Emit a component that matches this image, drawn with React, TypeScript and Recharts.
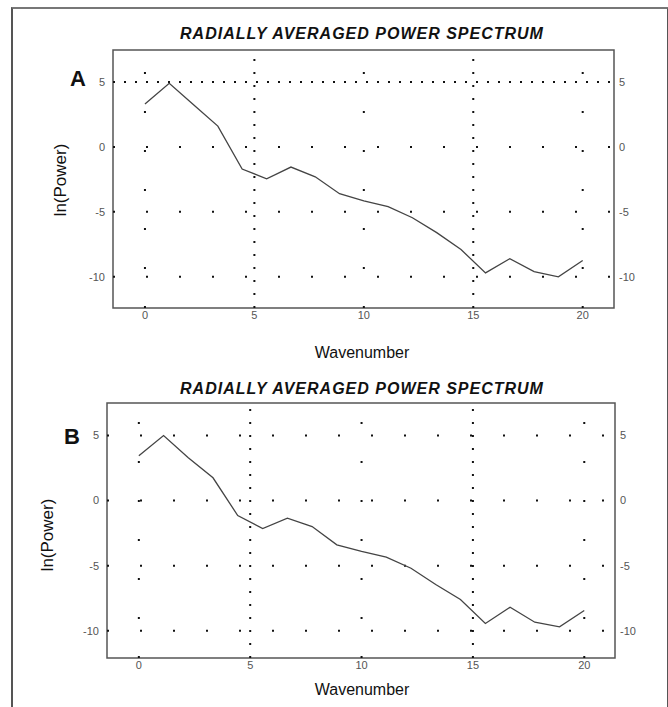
import { LineChart, Line, XAxis, YAxis, ReferenceLine, ReferenceArea } from "recharts";

const wavenumbers = [0, 1.11, 2.22, 3.33, 4.44, 5.56, 6.67, 7.78, 8.89, 10, 11.11, 12.22, 13.33, 14.44, 15.56, 16.67, 17.78, 18.89, 20];
const powerA = [3.3, 4.9, 3.25, 1.6, -1.7, -2.45, -1.55, -2.3, -3.6, -4.15, -4.6, -5.45, -6.6, -7.9, -9.7, -8.6, -9.6, -10.0, -8.75];
const powerB = [3.45, 5.0, 3.3, 1.75, -1.15, -2.15, -1.35, -2.0, -3.4, -3.9, -4.35, -5.2, -6.45, -7.6, -9.45, -8.2, -9.35, -9.7, -8.45];
const xTicks = [0, 5, 10, 15, 20];
const yTicks = [-10, -5, 0, 5];
const title = "RADIALLY AVERAGED POWER SPECTRUM";

const FONT = "'Liberation Sans', Arial, sans-serif";
const tickStyle = { fill: "#555", fontSize: 11, fontFamily: FONT };

type PanelProps = {
  values: number[];
  top: number;
  height: number;
  margin: { top: number; left: number; right: number; bottom: number };
  xDomain: [number, number];
  yDomain: [number, number];
  denseY: number[];
  sparseY: number[];
};

function Panel({ values, top, height, margin, xDomain, yDomain, denseY, sparseY }: PanelProps) {
  const data = wavenumbers.map((w, i) => ({ w, p: values[i] }));
  return (
    <div style={{ position: "absolute", left: 0, top }}>
      <LineChart width={668} height={height} data={data} margin={margin}>
        <XAxis
          dataKey="w"
          type="number"
          domain={xDomain}
          ticks={xTicks}
          allowDataOverflow
          axisLine={false}
          tickLine={false}
          tickSize={0}
          tickMargin={3}
          height={30}
          tick={tickStyle}
        />
        <YAxis
          yAxisId="left"
          type="number"
          domain={yDomain}
          ticks={yTicks}
          allowDataOverflow
          axisLine={false}
          tickLine={false}
          tickSize={0}
          tickMargin={8}
          width={40}
          tick={tickStyle}
        />
        <YAxis
          yAxisId="right"
          orientation="right"
          type="number"
          domain={yDomain}
          ticks={yTicks}
          allowDataOverflow
          axisLine={false}
          tickLine={false}
          tickSize={0}
          tickMargin={5}
          width={40}
          tick={tickStyle}
        />
        {/* sparse dotted grid */}
        {[0, 10, 20].map((x) => (
          <ReferenceLine key={"sx" + x} x={x} yAxisId="left" stroke="#111" strokeWidth={2} strokeDasharray="2 37" />
        ))}
        {sparseY.map((y) => (
          <ReferenceLine key={"sy" + y} y={y} yAxisId="left" stroke="#111" strokeWidth={2} strokeDasharray="2 31" />
        ))}
        {/* dense dotted grid */}
        {[5, 15].map((x) => (
          <ReferenceLine key={"dx" + x} x={x} yAxisId="left" stroke="#111" strokeWidth={2} strokeDasharray="2 11" />
        ))}
        {denseY.map((y) => (
          <ReferenceLine key={"dy" + y} y={y} yAxisId="left" stroke="#111" strokeWidth={2} strokeDasharray="2 9" />
        ))}
        <ReferenceArea
          yAxisId="left"
          x1={xDomain[0]}
          x2={xDomain[1]}
          y1={yDomain[0]}
          y2={yDomain[1]}
          fill="none"
          stroke="#555"
          strokeWidth={1.5}
          ifOverflow="visible"
        />
        <Line
          yAxisId="left"
          dataKey="p"
          type="linear"
          stroke="#444"
          strokeWidth={1.3}
          dot={false}
          isAnimationActive={false}
        />
      </LineChart>
    </div>
  );
}

function Titles({ top, letter, letterX, letterY, yLabelX }: { top: number; letter: string; letterX: number; letterY: number; yLabelX: number }) {
  return (
    <>
      <div
        style={{
          position: "absolute",
          left: 0,
          width: 724,
          top: top + 25,
          textAlign: "center",
          fontFamily: FONT,
          fontWeight: "bold",
          fontStyle: "italic",
          fontSize: 16,
          letterSpacing: 1,
          color: "#111",
        }}
      >
        {title}
      </div>
      <div style={{ position: "absolute", left: letterX, top: letterY, fontFamily: FONT, fontWeight: "bold", fontSize: 22, color: "#111" }}>
        {letter}
      </div>
      <div
        style={{
          position: "absolute",
          left: yLabelX - 50,
          top: top + 170,
          width: 100,
          textAlign: "center",
          transform: "rotate(-90deg)",
          fontFamily: FONT,
          fontSize: 17,
          color: "#111",
        }}
      >
        ln(Power)
      </div>
    </>
  );
}

export default function App() {
  return (
    <div style={{ position: "absolute", left: 0, top: 0, width: 668, height: 707, overflow: "hidden", background: "#fff" }}>
      <div
        style={{
          position: "absolute",
          left: 11,
          top: 7,
          width: 654,
          height: 760,
          borderTop: "2px solid #777",
          borderLeft: "2px solid #555",
          borderRight: "2px solid #555",
        }}
      />
      <Titles top={0} letter="A" letterX={70} letterY={66} yLabelX={61} />
      <Panel
        values={powerA}
        top={0}
        height={340}
        margin={{ top: 50, left: 73, right: 14, bottom: 2 }}
        xDomain={[-1.46, 21.43]}
        yDomain={[-12.4, 7.46]}
        denseY={[5]}
        sparseY={[0, -5, -10]}
      />
      <div style={{ position: "absolute", left: 0, width: 724, top: 344, textAlign: "center", fontFamily: FONT, fontSize: 16, color: "#111" }}>
        Wavenumber
      </div>
      <Titles top={355} letter="B" letterX={64} letterY={424} yLabelX={48} />
      <Panel
        values={powerB}
        top={353}
        height={337}
        margin={{ top: 50, left: 67, right: 13, bottom: 2 }}
        xDomain={[-1.43, 21.38]}
        yDomain={[-12.1, 7.5]}
        denseY={[]}
        sparseY={[5, 0, -5, -10]}
      />
      <div style={{ position: "absolute", left: 0, width: 724, top: 681, textAlign: "center", fontFamily: FONT, fontSize: 16, color: "#111" }}>
        Wavenumber
      </div>
    </div>
  );
}
